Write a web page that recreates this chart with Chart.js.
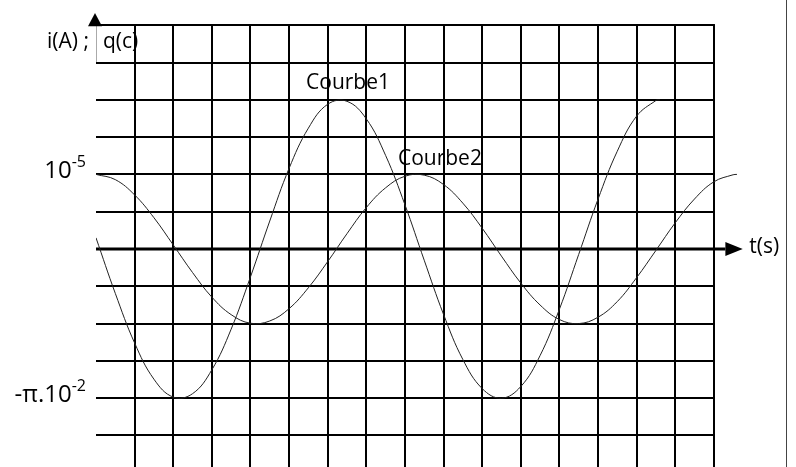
<!DOCTYPE html>
<html>
<head>
<meta charset="utf-8">
<script src="https://cdn.jsdelivr.net/npm/chart.js@4.4.1/dist/chart.umd.min.js"></script>
<style>
    html, body { margin: 0; padding: 0; background: #fff; }
</style>
</head>
<body>
<canvas id="chart" width="796" height="467"></canvas>
<script>
// Courbe1 : i(t) (t in grid squares, value in grid squares)
const courbe1T = [0, 0.5, 1, 1.5, 2, 2.5, 3, 3.5, 4, 4.5, 5, 5.5, 6, 6.5, 7, 7.5, 8, 8.5, 9, 9.5, 10, 10.5, 11, 11.5, 12, 12.5, 13, 13.5, 14, 14.5, 14.6];
const courbe1Vals = [0.30, -1.19, -2.52, -3.49, -3.97, -3.88, -3.24, -2.15, -0.75, 0.75, 2.16, 3.24, 3.88, 3.96, 3.49, 2.51, 1.19, -0.30, -1.75, -2.96, -3.74, -4.00, -3.69, -2.86, -1.62, -0.15, 1.33, 2.62, 3.56, 3.98, 4.00];

// Courbe2 : q(t)
const courbe2T = [0, 0.5, 1, 1.5, 2, 2.5, 3, 3.5, 4, 4.5, 5, 5.5, 6, 6.5, 7, 7.5, 8, 8.5, 9, 9.5, 10, 10.5, 11, 11.5, 12, 12.5, 13, 13.5, 14, 14.5, 15, 15.5, 16, 16.5, 16.6];
const courbe2Vals = [2.00, 1.86, 1.45, 0.84, 0.11, -0.63, -1.29, -1.76, -1.99, -1.93, -1.60, -1.04, -0.34, 0.41, 1.11, 1.64, 1.95, 1.98, 1.73, 1.23, 0.56, -0.19, -0.91, -1.50, -1.89, -2.00, -1.83, -1.41, -0.77, -0.04, 0.70, 1.34, 1.80, 1.99, 2.00];

const curveNames = ["Courbe1", "Courbe2"];

// grid
const gridT = [1, 2, 3, 4, 5, 6, 7, 8, 9, 10, 11, 12, 13, 14, 15, 16];
const gridY = [-5, -4, -3, -2, -1, 1, 2, 3, 4, 5, 6];

// y tick labels (base + superscript)
const tickValues = [2, -4];
const tickBases = ["10", "-π.10"];
const tickSups = ["-5", "-2"];

const yAxisTitle = ["i(A) ;", "q(c)"];
const xAxisTitle = "t(s)";

const FONT = '"Open Sans", "Noto Sans", sans-serif';

function toPoints(ts, vs) {
    return ts.map((t, i) => ({ x: t, y: vs[i] }));
}

const gridPlugin = {
    id: "gridPlugin",
    beforeDatasetsDraw(chart) {
        const ctx = chart.ctx;
        const xs = chart.scales.x;
        const ys = chart.scales.y;
        const x0 = xs.getPixelForValue(0);
        const xEnd = xs.getPixelForValue(16);
        const yTop = ys.getPixelForValue(6);
        const yBottom = chart.height;
        const yZero = ys.getPixelForValue(0);

        ctx.save();
        ctx.fillStyle = "#000";

        // axis titles
        ctx.font = `21px ${FONT}`;
        ctx.textBaseline = "alphabetic";
        ctx.fillText(yAxisTitle[0], 47, 48);
        ctx.fillText(yAxisTitle[1], 103, 48);
        ctx.fillText(xAxisTitle, xs.getPixelForValue(16.92), yZero + 4);

        // curve names
        ctx.fillText(curveNames[0], xs.getPixelForValue(5.44), ys.getPixelForValue(4.3));
        ctx.fillText(curveNames[1], xs.getPixelForValue(7.82), ys.getPixelForValue(2.25));

        // y tick labels
        tickValues.forEach((v, i) => {
            const y = ys.getPixelForValue(v) + 4;
            ctx.font = `16px ${FONT}`;
            const supW = ctx.measureText(tickSups[i]).width;
            ctx.font = `24px ${FONT}`;
            const baseW = ctx.measureText(tickBases[i]).width;
            const right = x0 - 10;
            ctx.fillText(tickBases[i], right - supW - baseW, y);
            ctx.font = `16px ${FONT}`;
            ctx.fillText(tickSups[i], right - supW, y - 11);
        });

        // thin box edge next to the title
        ctx.strokeStyle = "#aaa";
        ctx.lineWidth = 1;
        ctx.beginPath();
        ctx.moveTo(x0 + 0.5, yTop);
        ctx.lineTo(x0 + 0.5, ys.getPixelForValue(5));
        ctx.stroke();

        // grid
        ctx.strokeStyle = "#000";
        ctx.lineWidth = 2;
        gridY.forEach(v => {
            const y = Math.round(ys.getPixelForValue(v));
            ctx.beginPath();
            ctx.moveTo(x0, y);
            ctx.lineTo(xEnd + 1, y);
            ctx.stroke();
        });
        gridT.forEach(t => {
            const x = Math.round(xs.getPixelForValue(t));
            ctx.beginPath();
            ctx.moveTo(x, yTop - 1);
            ctx.lineTo(x, yBottom);
            ctx.stroke();
        });

        // time axis with arrow
        const arrowBase = xs.getPixelForValue(16.3);
        const arrowTip = xs.getPixelForValue(16.75);
        ctx.lineWidth = 3;
        ctx.beginPath();
        ctx.moveTo(x0, Math.round(yZero));
        ctx.lineTo(arrowBase, Math.round(yZero));
        ctx.stroke();
        ctx.beginPath();
        ctx.moveTo(arrowTip, yZero);
        ctx.lineTo(arrowBase, yZero - 7);
        ctx.lineTo(arrowBase, yZero + 7);
        ctx.closePath();
        ctx.fill();

        // y axis arrow head
        const yTip = ys.getPixelForValue(6.33);
        ctx.beginPath();
        ctx.moveTo(x0 - 1, yTip);
        ctx.lineTo(x0 - 8, yTop + 1);
        ctx.lineTo(x0 + 6, yTop + 1);
        ctx.closePath();
        ctx.fill();

        // page border on the right
        ctx.strokeStyle = "#444";
        ctx.lineWidth = 1;
        ctx.beginPath();
        ctx.moveTo(786.5, 0);
        ctx.lineTo(786.5, chart.height);
        ctx.stroke();

        ctx.restore();
    }
};

const ctx = document.getElementById("chart").getContext("2d");
new Chart(ctx, {
    type: "scatter",
    data: {
        datasets: [{
            label: curveNames[0],
            data: toPoints(courbe1T, courbe1Vals),
            showLine: true,
            borderColor: "#222",
            borderWidth: 1,
            pointRadius: 0,
            tension: 0.4
        }, {
            label: curveNames[1],
            data: toPoints(courbe2T, courbe2Vals),
            showLine: true,
            borderColor: "#222",
            borderWidth: 1,
            pointRadius: 0,
            tension: 0.4
        }]
    },
    options: {
        responsive: false,
        animation: false,
        layout: {
            padding: { left: 96, right: 5, top: 0, bottom: 0 }
        },
        plugins: {
            legend: { display: false },
            tooltip: { enabled: false }
        },
        scales: {
            x: { type: "linear", min: 0, max: 18, display: false },
            y: { type: "linear", min: -5.845, max: 6.676, display: false }
        }
    },
    plugins: [gridPlugin]
});
</script>
</body>
</html>
